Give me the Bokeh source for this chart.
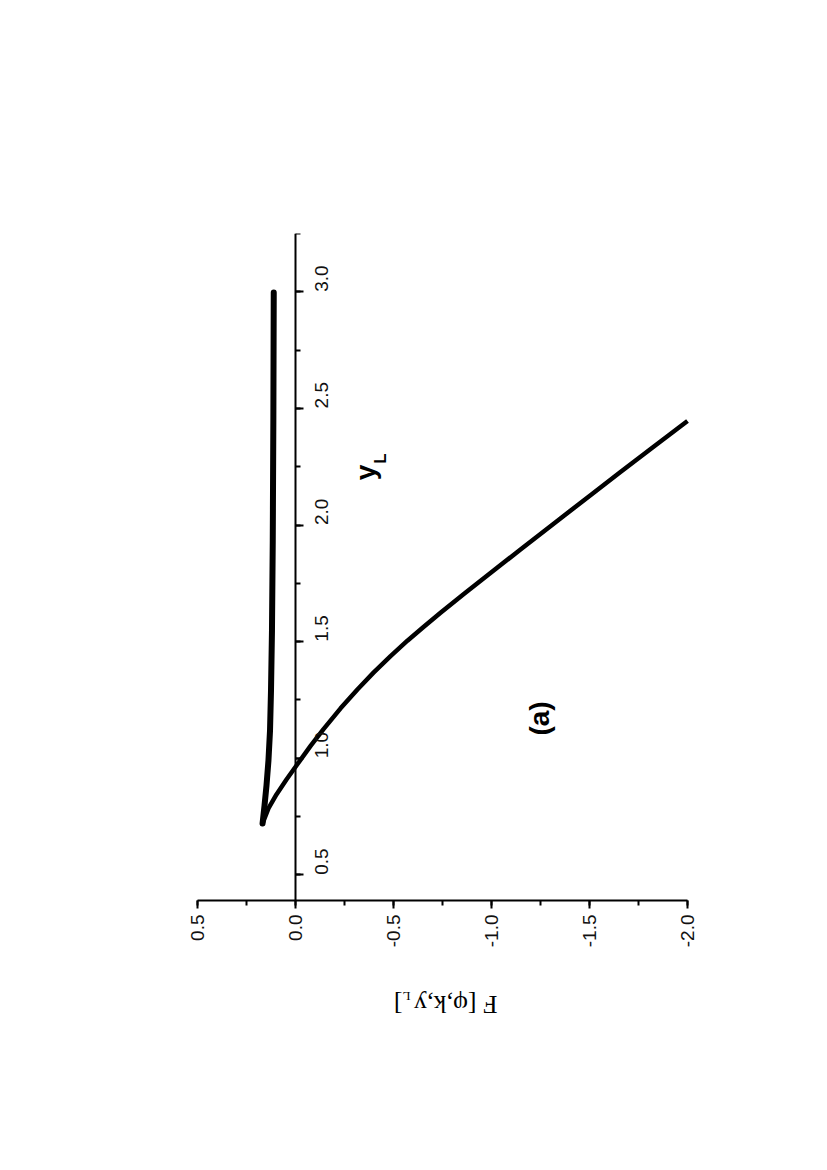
from math import pi
from bokeh.plotting import figure
from bokeh.models import Range1d, LinearAxis, SingleIntervalTicker, Label, PrintfTickFormatter
from bokeh.embed import file_html
from bokeh.resources import INLINE

# ---- data ----
# upper branch (from the top end down to the cusp)
upper_yl = [2.997, 2.448, 1.934, 1.548, 1.290, 1.119, 0.990, 0.883, 0.797, 0.720]
upper_F = [0.111, 0.113, 0.116, 0.120, 0.125, 0.130, 0.138, 0.148, 0.158, 0.168]
# lower branch (from the cusp to the right edge)
lower_yl = [0.720, 0.785, 0.845, 0.909, 0.969, 1.053, 1.125, 1.214, 1.295, 1.367,
            1.438, 1.504, 1.563, 1.624, 1.706, 1.788, 1.895, 2.012, 2.128, 2.227,
            2.342, 2.446]
lower_F = [0.168, 0.138, 0.097, 0.046, -0.005, -0.077, -0.143, -0.230, -0.316, -0.398,
           -0.485, -0.571, -0.653, -0.740, -0.862, -0.985, -1.148, -1.327, -1.505, -1.658,
           -1.837, -2.000]

F_ticks = [0.5, 0.0, -0.5, -1.0, -1.5, -2.0]
yl_ticks = [0.5, 1.0, 1.5, 2.0, 2.5, 3.0]

F_bounds = (0.5, -2.0)
yl_bounds = (0.39, 3.25)

# page geometry (pixels) of the axes box; used for sizes and text placement only
FL, FR, FT, FB = 197, 687, 233, 900
PAD_L, PAD_R = 27, 28                   # frame a little wider so edge tick labels are not cut
PAGE_BOTTOM = 1045                      # frame extended so the upside-down title fits
px_per_F = (FR - FL) / (F_bounds[0] - F_bounds[1])
px_per_yl = (FB - FT) / (yl_bounds[1] - yl_bounds[0])


def F_at(x):
    return F_bounds[0] - (x - FL) / px_per_F


def Y_at(y):
    return yl_bounds[1] - (y - FT) / px_per_yl


p = figure(frame_width=(FR + PAD_R) - (FL - PAD_L), frame_height=PAGE_BOTTOM - FT,
           x_range=Range1d(F_at(FL - PAD_L), F_at(FR + PAD_R)),
           y_range=Range1d(Y_at(PAGE_BOTTOM), yl_bounds[1]),
           y_axis_location=None, toolbar_location=None, output_backend="svg",
           min_border_left=FL - PAD_L, min_border_top=FT,
           min_border_right=60, min_border_bottom=5)
p.outline_line_color = None
p.background_fill_color = "white"
p.border_fill_color = "white"

tick_font = "Liberation Sans"

xa = p.xaxis[0]
xa.fixed_location = yl_bounds[0]
xa.bounds = (F_bounds[1], F_bounds[0])
xa.ticker = SingleIntervalTicker(interval=0.5, num_minor_ticks=2)
xa.formatter = PrintfTickFormatter(format="%.1f")
xa.axis_line_width = 2
xa.major_tick_line_width = 2
xa.minor_tick_line_width = 2
xa.major_tick_out = 8
xa.major_tick_in = 0
xa.minor_tick_out = 5
xa.minor_tick_in = 0
xa.major_label_orientation = pi / 2
xa.major_label_standoff = 6
xa.major_label_text_font = tick_font
xa.major_label_text_font_size = "19px"
xa.major_label_text_color = "#111111"

ya = LinearAxis(fixed_location=0.0)
ya.bounds = yl_bounds
ya.ticker = SingleIntervalTicker(interval=0.5, num_minor_ticks=2)
ya.formatter = PrintfTickFormatter(format="%.1f")
ya.axis_line_width = 2
ya.major_tick_line_width = 2
ya.minor_tick_line_width = 2
ya.major_tick_out = 8
ya.major_tick_in = 0
ya.minor_tick_out = 5
ya.minor_tick_in = 0
ya.major_label_orientation = pi / 2
ya.major_label_standoff = 18
ya.major_label_text_font = tick_font
ya.major_label_text_font_size = "19px"
ya.major_label_text_color = "#111111"
p.add_layout(ya, "right")

p.grid.visible = False

# the curve: two branches meeting at the cusp
p.line(upper_F, upper_yl, line_width=6, line_color="black",
       line_join="round", line_cap="round")
p.line(lower_F, lower_yl, line_width=4.5, line_color="black",
       line_join="round", line_cap="butt")
p.circle([lower_F[0]], [lower_yl[0]], radius=2.3, radius_units="screen",
         fill_color="black", line_color=None)

# in-plot labels (rotated page)
p.add_layout(Label(x=F_at(365), y=Y_at(472), text="y", angle=pi / 2,
                   text_align="center", text_baseline="alphabetic",
                   text_font=tick_font, text_font_style="bold",
                   text_font_size="28px", text_color="black"))
p.add_layout(Label(x=F_at(380), y=Y_at(458), text="L", angle=pi / 2,
                   text_align="center", text_baseline="alphabetic",
                   text_font=tick_font, text_font_style="bold",
                   text_font_size="17px", text_color="black"))
p.add_layout(Label(x=F_at(539), y=Y_at(718), text="(a)", angle=pi / 2,
                   text_align="center", text_baseline="middle",
                   text_font=tick_font, text_font_style="bold",
                   text_font_size="28px", text_color="black"))

# axis title of F, upside down
serif = "Liberation Serif"
p.add_layout(Label(x=F_at(497), y=Y_at(1004), text="F  [\u03c6,k,y", angle=pi,
                   text_align="left", text_baseline="alphabetic",
                   text_font=serif, text_font_size="26px", text_color="black"))
p.add_layout(Label(x=F_at(410), y=Y_at(996), text="L", angle=pi,
                   text_align="left", text_baseline="alphabetic",
                   text_font=serif, text_font_size="13px", text_color="black"))
p.add_layout(Label(x=F_at(402), y=Y_at(1004), text="]", angle=pi,
                   text_align="left", text_baseline="alphabetic",
                   text_font=serif, text_font_size="26px", text_color="black"))

open("out.html", "w").write(file_html(p, INLINE))
